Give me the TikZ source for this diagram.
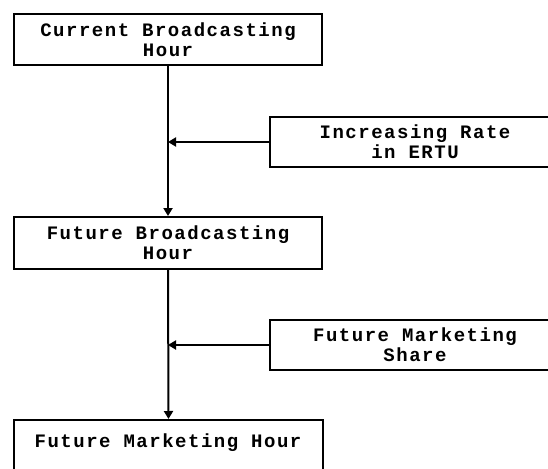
\documentclass[tikz,border=0pt]{standalone}
\usepackage{fontspec}
\setmonofont{Liberation Mono}[LetterSpace=8]
\usetikzlibrary{arrows.meta}
\begin{document}
\begin{tikzpicture}[x=1pt,y=-1pt,
  box/.style={draw, line width=2pt, rectangle, inner sep=0pt, align=center,
    font=\ttfamily\bfseries\fontsize{19}{20}\selectfont},
  lbl/.style={inner sep=0pt, align=center, font=\ttfamily\bfseries\fontsize{19}{20}\selectfont},
  arrow/.style={line width=2pt, -{Triangle[width=9pt,length=8pt]}}]
\useasboundingbox (0,0) rectangle (548,468);
\clip (0,0) rectangle (548,468);
\node[box, minimum width=308pt, minimum height=51pt] (cbh) at (168,39.5) {Current Broadcasting\\Hour};
\node[box, minimum width=290pt, minimum height=50pt] (ertu) at (415,142) {Increasing Rate\\in ERTU};
\node[box, minimum width=308pt, minimum height=52pt] (fbh) at (168,243) {Future Broadcasting\\Hour};
\node[box, minimum width=290pt, minimum height=50pt] (fms) at (415,345) {Future Marketing\\Share};
\node[box, minimum width=309pt, minimum height=56pt] (fmh) at (168.5,448) {};
\node[lbl] (fmhl) at (168,443) {Future Marketing Hour};
\draw[arrow] (cbh.south) -- (fbh.north);
\draw[arrow] (ertu.west) -- (ertu.west -| cbh.south);
\draw[arrow] (fbh.south) -- (fmh.north);
\draw[arrow] (fms.west) -- (fms.west -| fbh.south);
\end{tikzpicture}
\end{document}
